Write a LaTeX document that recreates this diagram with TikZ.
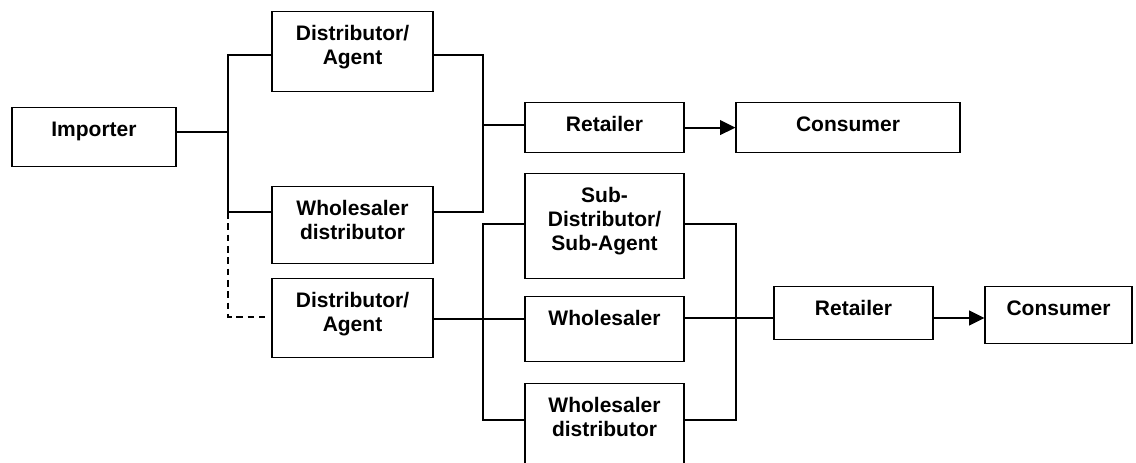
\documentclass[tikz,border=0pt]{standalone}
\usepackage{fontspec}
\setmainfont{Liberation Sans}
\usetikzlibrary{arrows.meta}
\tikzset{
  box/.style={draw=black, line width=0.9pt, fill=white, anchor=north, align=center, inner xsep=0pt, inner ysep=0pt, text height=21.75pt, font=\fontsize{15.75}{18}\selectfont\bfseries},
  twolines/.style={text height=39.75pt},
  threelines/.style={text height=57.75pt},
  link/.style={draw=black, line width=1.1pt},
  dashlink/.style={draw=black, line width=1.1pt, dash pattern=on 5pt off 3.5pt},
  arrow/.style={-{Triangle[length=11.5pt, width=11pt]}, draw=black, line width=1.5pt}
}
\begin{document}
\begin{tikzpicture}[x=0.75pt, y=-0.75pt]
\useasboundingbox (0,0) rectangle (1136,463);

% first column
\node[box, minimum width=123pt, text depth=22.5pt] (imp) at (94,107) {Importer};
\node[box, twolines, minimum width=120.75pt, text depth=20.25pt] (da1) at (352.5,11) {Distributor/\\Agent};
\node[box, twolines, minimum width=120.75pt, text depth=18pt] (wd1) at (352.5,186) {Wholesaler\\distributor};
\node[box, twolines, minimum width=120.75pt, text depth=19.5pt] (da2) at (352.5,278) {Distributor/\\Agent};

% upper chain
\node[box, minimum width=119.25pt, text depth=15.75pt] (ret1) at (604.5,102) {Retailer};
\node[box, minimum width=168pt, text depth=15.75pt] (con1) at (848,102) {Consumer};

% lower chain
\node[box, threelines, minimum width=119.25pt, text depth=21pt] (sda) at (604.5,173) {Sub-\\Distributor/\\Sub-Agent};
\node[box, minimum width=119.25pt, text depth=27pt] (whs) at (604.5,296) {Wholesaler};
\node[box, twolines, minimum width=119.25pt, text depth=25.5pt] (wd2) at (604.5,383) {Wholesaler\\distributor};
\node[box, minimum width=119.25pt, text depth=18pt] (ret2) at (853.5,286) {Retailer};
\node[box, minimum width=110.25pt, text depth=21pt] (con2) at (1058.5,286) {Consumer};

% junctions
\coordinate (jA) at (228,132);
\coordinate (jAt) at (228,55);
\coordinate (jAb) at (228,212);
\coordinate (jAd) at (228,317);
\coordinate (jB) at (483,125);
\coordinate (jBt) at (483,55);
\coordinate (jBb) at (483,212);
\coordinate (jC) at (483,319);
\coordinate (jCt) at (483,224);
\coordinate (jCb) at (483,420);
\coordinate (jD) at (736,318);
\coordinate (jDt) at (736,224);
\coordinate (jDb) at (736,420);

% importer to first column
\draw[link] (imp.east |- jA) -- (jA);
\draw[link] (da1.west |- jAt) -- (jAt) -- (jAb) -- (wd1.west |- jAb);
\draw[dashlink] (jAb) -- (jAd) -- ([xshift=-4.5pt]da2.west |- jAd);

% upper chain
\draw[link] (da1.east |- jBt) -- (jBt) -- (jBb) -- (wd1.east |- jBb);
\draw[link] (jB) -- (ret1.west |- jB);
\draw[arrow] (ret1.east) -- (con1.west);

% lower chain
\draw[link] (da2.east |- jC) -- (whs.west |- jC);
\draw[link] (sda.west |- jCt) -- (jCt) -- (jCb) -- (wd2.west |- jCb);
\draw[link] (sda.east |- jDt) -- (jDt) -- (jDb) -- (wd2.east |- jDb);
\draw[link] (whs.east |- jD) -- (ret2.west |- jD);
\draw[arrow] (ret2.east |- jD) -- (con2.west |- jD);
\end{tikzpicture}
\end{document}
